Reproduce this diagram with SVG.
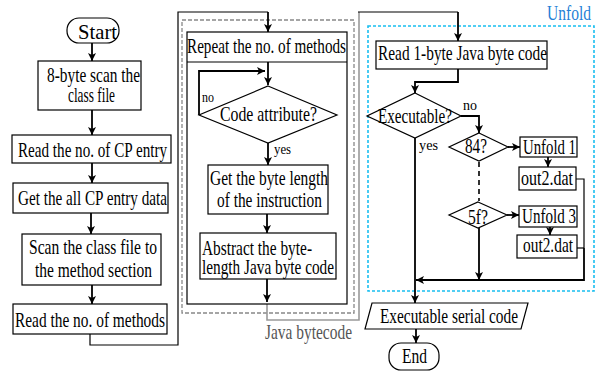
<svg xmlns="http://www.w3.org/2000/svg" width="598" height="372" viewBox="0 0 598 372">
  <defs>
    <marker id="arrow" markerUnits="userSpaceOnUse" markerWidth="10" markerHeight="10" viewBox="0 0 10 10" refX="9" refY="5" orient="auto">
      <path d="M1,1 L9,5 L1,9 L3,5 z" fill="#000"/>
    </marker>
    <style>
      .box { fill: #fff; stroke: #000; stroke-width: 1.2; }
      .t { font-family: "Liberation Serif", "Times New Roman", serif; font-size: 21px; fill: #000; }
      .s { font-family: "Liberation Serif", "Times New Roman", serif; font-size: 15px; fill: #000; }
      .c { fill: none; stroke: #000; stroke-width: 1.8; }
      .thin { fill: none; stroke: #000; stroke-width: 1.2; }
      .arr { marker-end: url(#arrow); }
    </style>
  </defs>
  <rect width="598" height="372" fill="#fff"/>

  <!-- frames around the method loop and the unfold stage -->
  <g id="frames">
    <rect x="182" y="20" width="172" height="293" fill="none" stroke="#888" stroke-width="1.3" stroke-dasharray="4 2"/>
    <rect x="368" y="26" width="226" height="265" fill="none" stroke="#19bff0" stroke-width="1.6" stroke-dasharray="3 2"/>
    <text class="t" x="547" y="20" textLength="44" lengthAdjust="spacingAndGlyphs" style="fill:#1f7fd6">Unfold</text>
  </g>

  <!-- connectors -->
  <g id="connectors">
    <!-- left column -->
    <line class="c arr" x1="92" y1="43" x2="92" y2="61"/>
    <line class="c arr" x1="92" y1="110" x2="92" y2="135"/>
    <line class="c arr" x1="92" y1="163" x2="92" y2="183"/>
    <line class="c arr" x1="91" y1="213" x2="91" y2="234"/>
    <line class="c arr" x1="92" y1="285" x2="92" y2="304"/>
    <polyline class="thin" points="90,334 90,345 178,345 178,12 268,12"/>
    <line class="c arr" x1="268" y1="12" x2="268" y2="32"/>
    <!-- method loop -->
    <polyline class="c arr" points="199,115 199,71 265,71"/>
    <line class="c arr" x1="268" y1="62" x2="268" y2="85"/>
    <line class="c arr" x1="268" y1="143" x2="268" y2="165"/>
    <line class="c arr" x1="267" y1="214" x2="267" y2="233"/>
    <line class="c arr" x1="267" y1="279" x2="267" y2="302"/>
    <polyline points="267,304 267,320 359,320 359,12" fill="none" stroke="#999" stroke-width="1.6"/>
    <line class="thin" x1="358" y1="12" x2="458" y2="12"/>
    <line class="c arr" x1="458" y1="12" x2="458" y2="41"/>
    <!-- unfold stage -->
    <polyline class="c arr" points="458,69 458,82 415,82 415,93"/>
    <polyline class="c arr" points="461,116 479,116 479,133"/>
    <line class="c arr" x1="508" y1="147" x2="520" y2="147"/>
    <line class="c arr" x1="548" y1="157" x2="548" y2="167"/>
    <line x1="479" y1="162" x2="479" y2="201" stroke="#000" stroke-width="1.6" stroke-dasharray="5 4"/>
    <line class="c arr" x1="507" y1="215" x2="519" y2="215"/>
    <line class="c arr" x1="550" y1="227" x2="550" y2="235"/>
    <polyline class="thin" points="576,179 584,179 584,248"/>
    <polyline class="c arr" points="584,248 584,280 416,280"/>
    <line class="thin" x1="577" y1="248" x2="584" y2="248"/>
    <line class="c arr" x1="479" y1="228" x2="479" y2="280"/>
    <line class="c arr" x1="415" y1="138" x2="415" y2="303"/>
    <line class="c arr" x1="416" y1="329" x2="416" y2="343"/>
  </g>

  <!-- left column -->
  <g id="start">
    <rect class="box" x="67" y="18" width="52" height="25" rx="12"/>
    <text class="t" x="78" y="39" textLength="39" lengthAdjust="spacingAndGlyphs">Start</text>
  </g>
  <g id="scan-header">
    <rect class="box" x="38" y="61" width="103" height="49"/>
    <text class="t" x="47" y="82" textLength="93" lengthAdjust="spacingAndGlyphs">8-byte scan the</text>
    <text class="t" x="68" y="102" textLength="47" lengthAdjust="spacingAndGlyphs">class file</text>
  </g>
  <g id="read-cp-count">
    <rect class="box" x="12" y="135" width="159" height="28"/>
    <text class="t" x="18" y="157" textLength="149" lengthAdjust="spacingAndGlyphs">Read the no. of CP entry</text>
  </g>
  <g id="get-cp-data">
    <rect class="box" x="13" y="183" width="155" height="30"/>
    <text class="t" x="18" y="205" textLength="149" lengthAdjust="spacingAndGlyphs">Get the all CP entry data</text>
  </g>
  <g id="scan-to-methods">
    <rect class="box" x="22" y="234" width="139" height="51"/>
    <text class="t" x="29" y="254" textLength="128" lengthAdjust="spacingAndGlyphs">Scan the class file to</text>
    <text class="t" x="35" y="277" textLength="117" lengthAdjust="spacingAndGlyphs">the method section</text>
  </g>
  <g id="read-method-count">
    <rect class="box" x="13" y="304" width="154" height="30"/>
    <text class="t" x="15" y="327" textLength="150" lengthAdjust="spacingAndGlyphs">Read the no. of methods</text>
  </g>

  <!-- method loop -->
  <g id="method-loop">
    <rect x="187" y="32" width="160" height="272" fill="none" stroke="#000" stroke-width="1.2"/>
    <line x1="187" y1="62" x2="347" y2="62" stroke="#000" stroke-width="1.2"/>
    <text class="t" x="187" y="53" textLength="159" lengthAdjust="spacingAndGlyphs">Repeat the no. of methods</text>
  </g>
  <g id="code-attribute">
    <polygon class="box" points="268,86 337,115 268,143 199,115"/>
    <text class="t" x="220" y="121" textLength="97" lengthAdjust="spacingAndGlyphs">Code attribute?</text>
    <text class="s" x="202" y="102" textLength="12" lengthAdjust="spacingAndGlyphs">no</text>
    <text class="s" x="274" y="154" textLength="17" lengthAdjust="spacingAndGlyphs">yes</text>
  </g>
  <g id="byte-length">
    <rect class="box" x="208" y="165" width="120" height="49"/>
    <text class="t" x="210" y="185" textLength="118" lengthAdjust="spacingAndGlyphs">Get the byte length</text>
    <text class="t" x="217" y="207" textLength="105" lengthAdjust="spacingAndGlyphs">of the instruction</text>
  </g>
  <g id="abstract-code">
    <rect class="box" x="200" y="233" width="136" height="46"/>
    <text class="t" x="202" y="255" textLength="110" lengthAdjust="spacingAndGlyphs">Abstract the byte-</text>
    <text class="t" x="202" y="274" textLength="132" lengthAdjust="spacingAndGlyphs">length Java byte code</text>
  </g>
  <g id="java-bytecode-label">
    <text class="t" x="265" y="339" textLength="87" lengthAdjust="spacingAndGlyphs" style="fill:#555">Java bytecode</text>
  </g>

  <!-- unfold stage -->
  <g id="read-byte">
    <rect class="box" x="376" y="41" width="171" height="28"/>
    <text class="t" x="378" y="60" textLength="169" lengthAdjust="spacingAndGlyphs">Read 1-byte Java byte code</text>
  </g>
  <g id="executable">
    <polygon class="box" points="415,93 461,116 415,138 367,116"/>
    <text class="t" x="378" y="123" textLength="74" lengthAdjust="spacingAndGlyphs">Executable?</text>
    <text class="s" x="463" y="110" textLength="14" lengthAdjust="spacingAndGlyphs">no</text>
    <text class="s" x="419" y="150" textLength="19" lengthAdjust="spacingAndGlyphs">yes</text>
  </g>
  <g id="op-84">
    <polygon class="box" points="479,133 508,147 479,161 449,147"/>
    <text class="t" x="465" y="153" textLength="22" lengthAdjust="spacingAndGlyphs">84?</text>
  </g>
  <g id="unfold-1">
    <rect class="box" x="520" y="137" width="57" height="20"/>
    <text class="t" x="523" y="154" textLength="53" lengthAdjust="spacingAndGlyphs">Unfold 1</text>
  </g>
  <g id="out-1">
    <rect class="box" x="519" y="167" width="57" height="23"/>
    <text class="t" x="521" y="185" textLength="52" lengthAdjust="spacingAndGlyphs">out2.dat</text>
  </g>
  <g id="op-5f">
    <polygon class="box" points="478,202 507,215 478,228 449,215"/>
    <text class="t" x="468" y="224" textLength="20" lengthAdjust="spacingAndGlyphs">5f?</text>
  </g>
  <g id="unfold-3">
    <rect class="box" x="519" y="206" width="58" height="21"/>
    <text class="t" x="522" y="223" textLength="54" lengthAdjust="spacingAndGlyphs">Unfold 3</text>
  </g>
  <g id="out-3">
    <rect class="box" x="517" y="235" width="60" height="23"/>
    <text class="t" x="523" y="252" textLength="50" lengthAdjust="spacingAndGlyphs">out2.dat</text>
  </g>

  <!-- output and end -->
  <g id="serial-code">
    <polygon class="box" points="372,303 528,303 521,329 365,329"/>
    <text class="t" x="380" y="323" textLength="138" lengthAdjust="spacingAndGlyphs">Executable serial code</text>
  </g>
  <g id="end">
    <rect class="box" x="389" y="343" width="50" height="27" rx="12"/>
    <text class="t" x="402" y="363" textLength="25" lengthAdjust="spacingAndGlyphs">End</text>
  </g>
</svg>
